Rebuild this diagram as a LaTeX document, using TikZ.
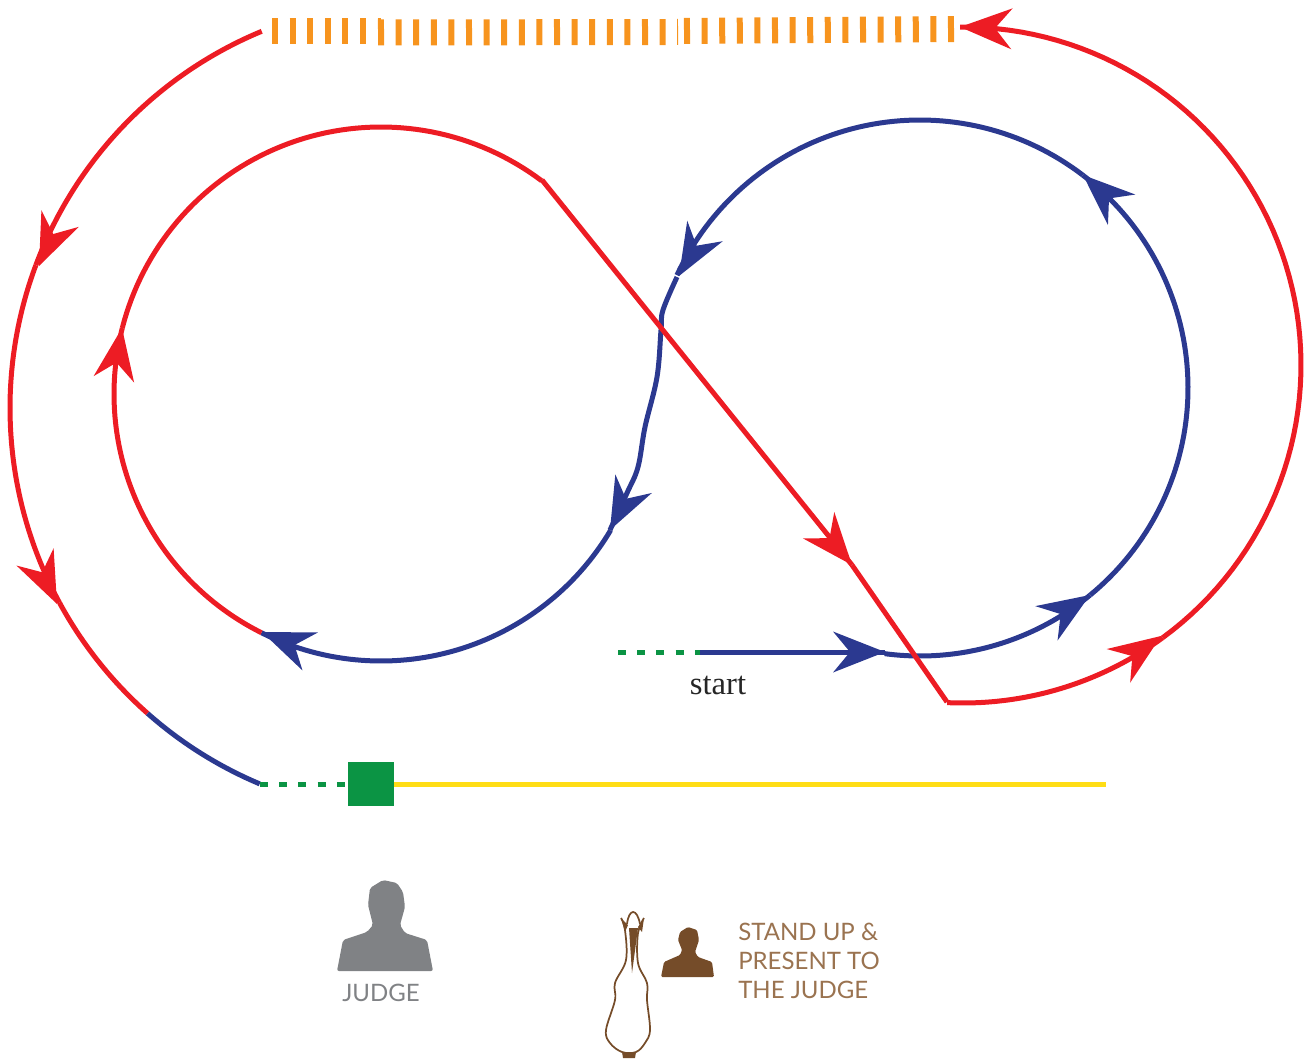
\documentclass[tikz,border=0pt]{standalone}
\usepackage{fontspec}
\setmainfont{Liberation Serif}
\newfontfamily\lblfont{Lato}
\definecolor{tred}{HTML}{ED1C24}
\definecolor{tblue}{HTML}{2B3990}
\definecolor{torange}{HTML}{F7941E}
\definecolor{tgreen}{HTML}{0B9444}
\definecolor{tyellow}{HTML}{FFDD15}
\definecolor{tgray}{HTML}{808285}
\definecolor{tbrown}{HTML}{754C29}
\definecolor{ttext}{HTML}{9A7350}
\tikzset{
  track/.style={line width=3.75pt,line join=round},
  greendash/.style={draw=tgreen,line width=3.75pt,dash pattern=on 6pt off 8.4pt},
  orangetick/.style={draw=torange,line width=19.5pt,dash pattern=on 4.5pt off 8.7pt},
  lbl/.style={inner sep=0pt,font=\lblfont\fontsize{18}{21.75}\selectfont},
}
% #1 colour, #2 cx, #3 cy, #4 r, #5 start angle, #6 end angle
\newcommand\trackarc[6]{\draw[track,draw=#1] plot[domain=#5:#6,samples=70,variable=\t]
  ({#2+#4*cos(\t)},{#3-#4*sin(\t)});}
% #1 colour, #2 x, #3 y, #4 direction
\newcommand\trackhead[4]{\fill[#1,shift={(#2,#3)},rotate=#4] (0,0) -- (-52,20.5) -- (-35,0) -- (-52,-20.5) -- cycle;}
\begin{document}
\begin{tikzpicture}[x=0.75pt,y=-0.75pt]
\useasboundingbox (0,0) rectangle (1309,1059);
% orange ticks
\draw[orangetick] (272,31) -- (381,31);
\draw[orangetick] (378,32.5) -- (678,32);
\draw[orangetick] (684,31) -- (958,29);
% green dashes and start line
\coordinate (s0) at (618,652);
\coordinate (s1) at (700,652);
\coordinate (s2) at (885,652);
\draw[greendash] (s0) -- (s1);
\draw[track,draw=tblue] (s1) -- (s2);
\trackhead{tblue}{885}{652}{0}
\node[inner sep=0pt,font=\fontsize{24.5}{28}\selectfont,text=black!85] (start) at (718,685) {start};
% right loop (blue)
\trackarc{tblue}{920}{388}{268}{262.4}{309.4}
\trackhead{tblue}{1090}{595}{33}
\trackarc{tblue}{920}{388}{268}{309.4}{412.6}
\trackhead{tblue}{1083}{175}{138}
\trackarc{tblue}{920}{388}{268}{52.6}{155.1}
\trackhead{tblue}{679}{276}{240}
\draw[track,draw=tblue] plot[smooth,tension=0.6] coordinates {(677,277) (663,310) (661,330) (657,377) (645,427) (638,467) (627,493) (610,530)};
\trackhead{tblue}{610}{530}{243}
% left loop
\trackarc{tblue}{381}{394}{267}{329.3}{243.4}
\trackhead{tblue}{262}{632}{158}
\trackarc{tred}{381}{394}{267}{243.4}{165.7}
\trackhead{tred}{122}{328}{81}
\trackarc{tred}{381}{394}{267}{165.7}{53}
% diagonal
\coordinate (d0) at (542,180);
\coordinate (d1) at (852,565);
\coordinate (d2) at (947,702);
\draw[track,draw=tred] (d0) -- (d1);
\trackhead{tred}{852}{565}{-50}
\draw[track,draw=tred] (d1) -- (d2);
% outer right
\trackarc{tred}{963}{365}{338}{267.3}{306.2}
\trackhead{tred}{1161}{636}{35}
\trackarc{tred}{963}{365}{338}{306.2}{450.5}
\trackhead{tred}{960}{27}{178}
% outer left
\trackarc{tred}{417.75}{408}{407.75}{112.5}{159.5}
\trackhead{tred}{39}{266}{246}
\trackarc{tred}{417.75}{408}{407.75}{159.5}{208.5}
\trackhead{tred}{57}{604}{-65}
\trackarc{tred}{417.75}{408}{407.75}{208.5}{228.5}
\trackarc{tblue}{417.75}{408}{407.75}{228.5}{247.2}
% finish line
\node[fill=tgreen,minimum width=34.5pt,minimum height=33.5pt,inner sep=0pt] (sq) at (370.5,784) {};
\coordinate (f0) at (260,784);
\coordinate (f1) at (1106,784);
\draw[greendash] (f0) -- (sq.west);
\draw[line width=3.75pt,draw=tyellow] (sq.east) -- (f1);
% judge
\fill[tgray,rounded corners=1.5pt] (337,971) -- (343,940) -- (367,932) -- (373,925) -- (368,905) -- (370,888) -- (383,880) -- (397,883) -- (403,892) -- (405,907) -- (400,925) -- (405,933) -- (427,940) -- (433,971) -- cycle;
\node[lbl,text=tgray,anchor=base] (judge) at (381,1001) {JUDGE};
% handler
\fill[tbrown,rounded corners=1pt] (661,977) -- (664,962) -- (680,955) -- (682,950) -- (678,940) -- (680,932) -- (688,927) -- (697,930) -- (699,940) -- (695,952) -- (698,957) -- (712,962) -- (714,977) -- cycle;
% horse
\draw[tbrown,line width=1.3pt,line join=round] plot[smooth,tension=0.6] coordinates {(621,918) (625,930) (626,960) (615,983) (615,1000) (606,1030) (610,1043) (622,1052) (636,1052) (645,1043) (650,1030) (647,1000) (647,983) (638,963) (638,933) (644,918)};
\draw[tbrown,line width=1.3pt,line join=round] (627,924) .. controls (629,908) and (637,908) .. (640,924);
\fill[tbrown] (621,918) -- (628,925) -- (625,932) -- cycle;
\fill[tbrown] (644,918) -- (638,927) -- (642,932) -- cycle;
\fill[tbrown] (629,928) -- (638,928) -- (632,973) -- cycle;
\fill[tbrown] (622,1052) -- (636,1052) -- (635,1058) -- (623,1058) -- cycle;
\node[lbl,text=ttext,anchor=north west,align=left] (present) at (738,923) {STAND UP \&\\PRESENT TO\\THE JUDGE};
\end{tikzpicture}
\end{document}
